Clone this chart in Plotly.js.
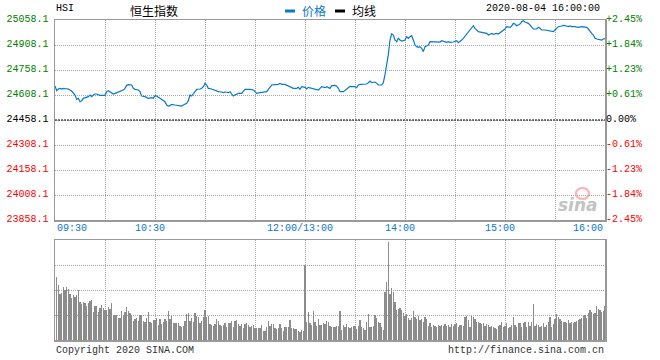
<!DOCTYPE html>
<html>
<head>
<meta charset="utf-8">
<script src="https://cdn.plot.ly/plotly-3.0.1.min.js"></script>
<style>html,body{margin:0;padding:0;background:#fff;}#chart{width:660px;height:360px;}</style>
</head>
<body>
<div id="chart"></div>
<script>
// ---- data (minutes of trading since 09:30, lunch break removed: 150 = 12:00/13:00, 330 = 16:00) ----
const symbol = "HSI";
const chartTitle = "恒生指数";
const legendPrice = "价格";
const legendAvg = "均线";
const stamp = "2020-08-04 16:00:00";
const prevClose = 24458.1;

const priceTicks = [23858.1, 24008.1, 24158.1, 24308.1, 24458.1, 24608.1, 24758.1, 24908.1, 25058.1];
const pctLabels = ["-2.45%", "-1.84%", "-1.23%", "-0.61%", "0.00%", "+0.61%", "+1.23%", "+1.84%", "+2.45%"];

const timeLabels = ["09:30", "10:30", "12:00/13:00", "14:00", "15:00", "16:00"];
const timeLabelMinutes = [0, 60, 150, 210, 270, 330];

const priceMinutes = [0,1,2,3,4,5,6,8,10,11,12,13,14,15,16,17,19,20,21,22,23,24,25,26,27,30,31,32,33,35,36,37,39,41,42,43,44,46,47,48,50,51,52,54,56,58,59,60,61,63,64,66,67,68,69,70,72,74,76,77,79,80,81,82,83,84,85,87,88,89,90,91,92,94,96,98,100,101,102,104,105,106,107,108,109,110,112,113,114,117,119,120,121,123,125,127,128,129,130,132,134,135,136,138,140,141,143,145,146,147,148,150,151,152,154,156,158,159,160,162,163,165,166,168,169,170,171,173,174,176,177,180,181,182,183,185,187,188,189,190,192,193,194,196,197,198,199,200,201,202,203,204,205,206,207,208,209,210,211,212,213,214,215,216,217,218,219,220,221,222,223,224,225,226,229,231,232,233,235,236,237,239,240,241,242,243,244,245,246,247,248,249,250,251,252,253,254,256,258,259,260,261,262,263,265,266,267,268,269,270,271,273,274,275,276,277,278,279,280,281,282,283,284,285,286,287,289,290,291,292,294,296,298,299,300,301,302,304,305,307,308,309,310,312,314,316,318,319,320,321,322,323,324,325,327,328,329,330];
const priceValues = [24662,24634,24644,24648,24644,24648,24646,24644,24632,24618,24608,24582,24588,24568,24574,24588,24594,24598,24608,24598,24608,24614,24614,24608,24606,24606,24628,24634,24628,24614,24618,24622,24634,24638,24648,24666,24670,24668,24648,24642,24638,24628,24602,24598,24588,24592,24588,24604,24602,24588,24582,24568,24548,24542,24544,24552,24548,24544,24542,24548,24558,24574,24608,24602,24614,24628,24642,24644,24648,24658,24678,24668,24648,24644,24634,24628,24626,24622,24626,24622,24628,24618,24602,24608,24614,24618,24618,24628,24642,24642,24638,24628,24618,24622,24626,24628,24642,24658,24668,24670,24672,24678,24672,24672,24664,24658,24648,24648,24654,24642,24658,24654,24644,24654,24648,24640,24638,24648,24658,24652,24658,24648,24664,24666,24662,24648,24628,24628,24638,24652,24660,24658,24652,24668,24672,24674,24674,24682,24692,24682,24686,24678,24668,24668,24682,24730,24790,24850,24938,24975,24968,24938,24928,24948,24938,24932,24934,24938,24958,24948,24958,24964,24938,24908,24898,24894,24898,24888,24868,24898,24902,24908,24928,24928,24928,24926,24934,24932,24924,24928,24924,24926,24932,24934,24922,24928,24938,24948,24962,24974,24988,24998,25014,25024,25008,24998,24988,24984,24982,24978,24968,24974,24978,24972,24978,24974,24982,24988,24998,25004,25018,25014,25022,25038,25034,25024,25028,25034,25048,25054,25046,25042,25038,25028,25018,25004,25004,25014,25008,24998,24998,24994,24994,24988,24998,25008,25018,25022,25026,25022,25018,25022,25018,25018,25014,25018,25018,25014,25004,24988,24978,24968,24948,24944,24942,24938,24944,24946];

// volume, one bar per minute starting at minute 1 (relative units, panel top = 100)
const volumeStartMinute = 1;
const volumeValues = [
 63,55,46,47,53,50,53,51,46,42,
 45,43,45,50,38,36,38,37,34,37,
 39,40,28,34,34,28,32,35,32,30,
 30,33,31,37,24,25,25,22,22,29,
 25,28,33,29,27,24,19,21,22,19,
 25,25,19,18,22,28,18,17,20,20,
 22,15,21,16,18,21,19,29,21,24,
 17,17,17,17,14,13,14,19,26,27,
 19,22,18,27,24,23,17,19,23,30,
 23,24,16,15,14,16,21,19,15,14,
 15,17,13,17,17,19,13,19,20,16,
 14,16,12,16,17,15,13,14,15,12,
 12,12,12,15,9,9,13,19,14,16,
 16,12,11,12,16,12,9,13,13,13,
 20,12,12,11,11,9,8,10,9,75,
 18,28,17,15,29,18,14,21,15,15,
 17,16,19,18,
 14,13,13,13,14,14,29,10,15,13,
 16,13,12,13,14,14,11,14,20,13,
 12,10,18,26,13,13,14,25,22,18,
 17,13,10,48,58,98,46,52,48,38,
 30,31,32,30,27,24,26,22,20,22,
 29,23,21,24,20,21,18,23,21,14,
 17,13,15,14,13,15,14,15,14,16,
 14,15,13,16,14,16,17,13,15,15,
 14,23,24,20,13,24,23,21,18,18,
 17,16,17,14,16,15,13,14,13,12,
 11,14,15,18,13,14,17,12,13,15,
 23,15,13,17,17,13,17,18,13,18,
 14,18,36,14,16,15,13,14,17,13,
 15,18,23,13,16,21,26,23,21,19,
 18,18,17,20,17,18,17,18,19,20,
 21,22,24,25,22,27,30,28,26,27,
 34,31,30,28,29,34
];
const volumeMinutes = volumeValues.map((v, i) => volumeStartMinute + i);

// ---- styling ----
const MONO = "Liberation Mono, DejaVu Sans Mono, monospace";
const CJK = "Noto Sans CJK SC, Noto Sans, sans-serif";
const BLUE = "#0a78cc";
const GREEN = "#008000";
const RED = "#ff0000";
const GRID = "#a8a8a8";
const BORDER = "#999999";

function colorFor(v) { return v > prevClose + 0.01 ? GREEN : (v < prevClose - 0.01 ? RED : "#000000"); }
const leftText = priceTicks.map(v => '<span style="color:' + colorFor(v) + '">' + v.toFixed(1) + '</span>');
const rightText = priceTicks.map((v, i) => '<span style="color:' + colorFor(v) + '">' + pctLabels[i] + '</span>');

const gridMinutes = [];
for (let m = 0; m <= 330; m += 30) gridMinutes.push(m);

// pixel helpers for header/footer (paper coords): plot area 55..605 x, 20..340 y
const py = p => (340 - p) / 320;
const px = p => (p - 55) / 550;

const traces = [
  {
    type: "scatter", mode: "lines", x: priceMinutes, y: priceValues,
    xaxis: "x", yaxis: "y", line: { color: BLUE, width: 1.2 }, hoverinfo: "skip"
  },
  {
    type: "bar", x: volumeMinutes, y: volumeValues, width: 0.7,
    xaxis: "x2", yaxis: "y3", marker: { color: "#8c8c8c", line: { width: 0 } }, hoverinfo: "skip"
  }
];

const axisCommon = {
  showgrid: true, gridcolor: GRID, gridwidth: 1, griddash: "1px,1px",
  showline: true, linecolor: BORDER, linewidth: 1.5, mirror: true,
  zeroline: false, ticks: "", fixedrange: true
};

const annotations = [];
timeLabels.forEach((t, i) => {
  const m = timeLabelMinutes[i];
  const first = i === 0, last = i === timeLabels.length - 1;
  annotations.push({
    text: t, x: m, xref: "x", y: py(228), yref: "paper", showarrow: false,
    xanchor: first ? "left" : (last ? "right" : "center"), xshift: (first || last) ? 0 : -5,
    yanchor: "middle", font: { family: MONO, size: 10, color: BLUE }
  });
});
annotations.push(
  { text: symbol, x: px(54), y: py(9), xref: "paper", yref: "paper", xanchor: "left", yanchor: "middle", showarrow: false, font: { family: MONO, size: 10, color: "#000" } },
  { text: chartTitle, x: px(154), y: py(10), xref: "paper", yref: "paper", xanchor: "center", yanchor: "middle", showarrow: false, font: { family: CJK, size: 12, color: "#000" } },
  { text: legendPrice, x: px(300), y: py(10), xref: "paper", yref: "paper", xanchor: "left", yanchor: "middle", showarrow: false, font: { family: CJK, size: 12, color: BLUE } },
  { text: legendAvg, x: px(350), y: py(10), xref: "paper", yref: "paper", xanchor: "left", yanchor: "middle", showarrow: false, font: { family: CJK, size: 12, color: "#000" } },
  { text: stamp, x: px(602), y: py(9), xref: "paper", yref: "paper", xanchor: "right", yanchor: "middle", showarrow: false, font: { family: MONO, size: 10, color: "#000" } },
  { text: "Copyright 2020 SINA.COM", x: px(54), y: py(350), xref: "paper", yref: "paper", xanchor: "left", yanchor: "middle", showarrow: false, font: { family: MONO, size: 10, color: "#333" } },
  { text: "http://finance.sina.com.cn", x: px(606), y: py(350), xref: "paper", yref: "paper", xanchor: "right", yanchor: "middle", showarrow: false, font: { family: MONO, size: 10, color: "#333" } },
  { text: "<b><i>sina</i></b>", x: px(578), y: py(205), xref: "paper", yref: "paper", xanchor: "center", yanchor: "middle", showarrow: false, opacity: 0.5, font: { family: "DejaVu Sans, sans-serif", size: 17, color: "#888" } }
);

const shapes = [
  { type: "line", xref: "x", yref: "y", x0: 0, x1: 330, y0: prevClose, y1: prevClose, line: { color: "#000", width: 1, dash: "2px,1px" } },
  { type: "line", xref: "paper", yref: "paper", x0: px(285), x1: px(295), y0: py(11), y1: py(11), line: { color: BLUE, width: 3 } },
  { type: "line", xref: "paper", yref: "paper", x0: px(335), x1: px(345), y0: py(11), y1: py(11), line: { color: "#000", width: 3 } },
  { type: "circle", xref: "paper", yref: "paper", x0: px(576), x1: px(589), y0: py(188), y1: py(199), line: { color: "#f08080", width: 2.5 }, opacity: 0.55 }
];

const layout = {
  width: 660, height: 360,
  margin: { l: 55, r: 55, t: 20, b: 20, pad: 0 },
  paper_bgcolor: "#fff", plot_bgcolor: "#fff",
  showlegend: false, hovermode: false, bargap: 0,
  xaxis: Object.assign({}, axisCommon, { domain: [0, 1], anchor: "y", range: [0, 330], tickvals: gridMinutes, showticklabels: false }),
  yaxis: Object.assign({}, axisCommon, {
    domain: [0.375, 1], anchor: "x", range: [23858.1, 25058.1], tickvals: priceTicks, ticktext: leftText,
    tickfont: { family: MONO, size: 10 }, ticklabelstandoff: 3, ticklabelshift: -2
  }),
  yaxis2: {
    overlaying: "y", side: "right", anchor: "x", range: [23858.1, 25058.1], tickvals: priceTicks, ticktext: rightText,
    showgrid: false, zeroline: false, showline: false, ticks: "", tickfont: { family: MONO, size: 10 }, fixedrange: true,
    ticklabelshift: -2
  },
  xaxis2: Object.assign({}, axisCommon, { domain: [0, 1], anchor: "y3", range: [0, 330], tickvals: gridMinutes, showticklabels: false }),
  yaxis3: Object.assign({}, axisCommon, { domain: [0, 0.3125], anchor: "x2", range: [0, 100], tickvals: [25, 50, 75], showticklabels: false }),
  annotations: annotations,
  shapes: shapes
};

// dummy trace to activate yaxis2
traces.push({ type: "scatter", mode: "lines", x: [0, 330], y: [prevClose, prevClose], xaxis: "x", yaxis: "y2", line: { width: 0, color: "rgba(0,0,0,0)" }, hoverinfo: "skip" });

Plotly.newPlot("chart", traces, layout, { staticPlot: true, displayModeBar: false });
</script>
</body>
</html>
